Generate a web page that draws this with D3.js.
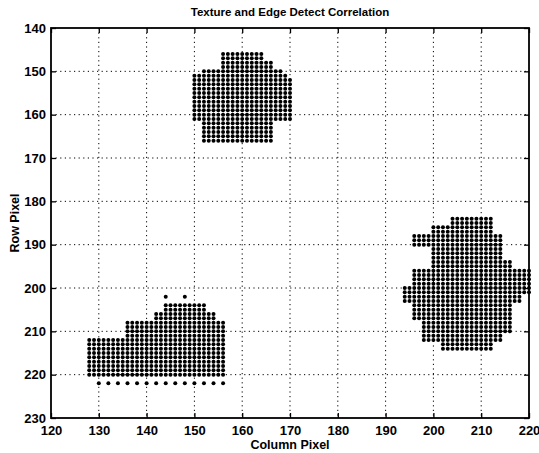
<!DOCTYPE html>
<meta charset="utf-8">
<script src="https://d3js.org/d3.v7.min.js"></script>

<style>
  body { margin: 0; background: #fff; }
  text { font-family: "Liberation Sans", Arial, Helvetica, sans-serif; font-weight: bold; fill: #000; }
  .grid line { stroke: #000; stroke-width: 1; stroke-dasharray: 1.2,3.4; }
  .axis path { display: none; }
  .axis line { stroke: #000; stroke-width: 1.3; }
  .axis text { font-size: 13px; }
</style>

<body>
  <div id="chart"></div>

  <script>
    const width = 539,
          height = 453;

    const title = "Texture and Edge Detect Correlation",
          xLabel = "Column Pixel",
          yLabel = "Row Pixel";

    const xTicks = [120, 130, 140, 150, 160, 170, 180, 190, 200, 210, 220];
    const yTicks = [140, 150, 160, 170, 180, 190, 200, 210, 220, 230];

    // detected pixels, one run per row: [row, first column, last column, column step]
    const topBlob = [
      [146, 156, 164, 1], [147, 156, 164, 1], [148, 156, 166, 1], [149, 156, 166, 1],
      [150, 152, 168, 1], [151, 150, 169, 1],
      [152, 150, 170, 1], [153, 150, 170, 1], [154, 150, 170, 1], [155, 150, 170, 1],
      [156, 150, 170, 1], [157, 150, 170, 1], [158, 150, 170, 1], [159, 150, 170, 1],
      [160, 150, 170, 1], [161, 150, 170, 1],
      [162, 152, 166, 1], [163, 152, 166, 1], [164, 152, 166, 1], [165, 152, 166, 1],
      [166, 152, 166, 1]
    ];

    const leftBlob = [
      [202, 144, 144, 1], [202, 148, 148, 1],
      [204, 144, 152, 1], [205, 144, 152, 1],
      [206, 142, 154, 1], [207, 142, 154, 1],
      [208, 136, 156, 1], [209, 136, 156, 1], [210, 136, 156, 1], [211, 136, 156, 1],
      [212, 128, 156, 1], [213, 128, 156, 1], [214, 128, 156, 1], [215, 128, 156, 1],
      [216, 128, 156, 1], [217, 128, 156, 1], [218, 128, 156, 1], [219, 128, 156, 1],
      [220, 128, 156, 1],
      [222, 130, 156, 2]
    ];

    const rightBlob = [
      [184, 204, 212, 1], [185, 204, 212, 1],
      [186, 200, 212, 1], [187, 200, 212, 1],
      [188, 196, 214, 1], [189, 196, 214, 1], [190, 196, 214, 1],
      [191, 200, 214, 1], [192, 200, 214, 1], [193, 200, 214, 1],
      [194, 200, 216, 1], [195, 200, 216, 1],
      [196, 196, 220, 1], [197, 196, 220, 1], [198, 196, 220, 1], [199, 196, 220, 1],
      [200, 194, 220, 1], [201, 194, 220, 1],
      [202, 194, 218, 1], [203, 194, 218, 1],
      [204, 196, 216, 1], [205, 196, 216, 1], [206, 196, 216, 1], [207, 196, 216, 1],
      [208, 198, 216, 1], [209, 198, 216, 1], [210, 198, 216, 1],
      [211, 198, 214, 1], [212, 198, 214, 1],
      [213, 202, 212, 1], [214, 202, 212, 1]
    ];

    // unpack runs to single pixels
    const points = [];
    [topBlob, leftBlob, rightBlob].forEach(blob => {
      blob.forEach(([row, c0, c1, step]) => {
        for (let c = c0; c <= c1; c += step) points.push({ col: c, row: row });
      });
    });

    const margin = { top: 28, right: 10, bottom: 35, left: 51 };

    const svg = d3.select("#chart")
      .append("svg")
      .attr("width", width)
      .attr("height", height);

    const x = d3.scaleLinear()
      .domain([120, 220])
      .range([margin.left, width - margin.right]);

    const y = d3.scaleLinear()
      .domain([140, 230])
      .range([margin.top, height - margin.bottom]);

    // dotted grid
    const grid = svg.append("g").attr("class", "grid");
    grid.selectAll("line.v")
      .data(xTicks.slice(1, -1))
      .enter().append("line")
      .attr("class", "v")
      .attr("x1", d => x(d)).attr("x2", d => x(d))
      .attr("y1", y(140)).attr("y2", y(230));
    grid.selectAll("line.h")
      .data(yTicks.slice(1, -1))
      .enter().append("line")
      .attr("class", "h")
      .attr("y1", d => y(d)).attr("y2", d => y(d))
      .attr("x1", x(120)).attr("x2", x(220));

    // pixels
    svg.append("g")
      .selectAll("circle")
      .data(points)
      .enter().append("circle")
      .attr("cx", d => x(d.col))
      .attr("cy", d => y(d.row))
      .attr("r", 2)
      .attr("fill", "#000");

    // axes, ticks point inward on all four sides
    svg.append("g")
      .attr("class", "axis")
      .attr("transform", `translate(0,${y(230)})`)
      .call(d3.axisBottom(x).tickValues(xTicks).tickSize(-5).tickPadding(8));
    svg.append("g")
      .attr("class", "axis")
      .attr("transform", `translate(0,${y(140)})`)
      .call(d3.axisTop(x).tickValues(xTicks).tickSize(-5).tickFormat(""));
    svg.append("g")
      .attr("class", "axis")
      .attr("transform", `translate(${x(120)},0)`)
      .call(d3.axisLeft(y).tickValues(yTicks).tickSize(-5).tickPadding(5));
    svg.append("g")
      .attr("class", "axis")
      .attr("transform", `translate(${x(220)},0)`)
      .call(d3.axisRight(y).tickValues(yTicks).tickSize(-5).tickFormat(""));

    svg.append("rect")
      .attr("x", x(120))
      .attr("y", y(140))
      .attr("width", x(220) - x(120))
      .attr("height", y(230) - y(140))
      .attr("fill", "none")
      .attr("stroke", "#000")
      .attr("stroke-width", 1.8);

    svg.append("text")
      .attr("x", (x(120) + x(220)) / 2)
      .attr("y", 16)
      .attr("text-anchor", "middle")
      .style("font-size", "11.5px")
      .text(title);

    svg.append("text")
      .attr("x", (x(120) + x(220)) / 2)
      .attr("y", 449)
      .attr("text-anchor", "middle")
      .style("font-size", "12.5px")
      .text(xLabel);

    svg.append("text")
      .attr("transform", `translate(19,${(y(140) + y(230)) / 2}) rotate(-90)`)
      .attr("text-anchor", "middle")
      .style("font-size", "12.5px")
      .text(yLabel);
  </script>
</body>
